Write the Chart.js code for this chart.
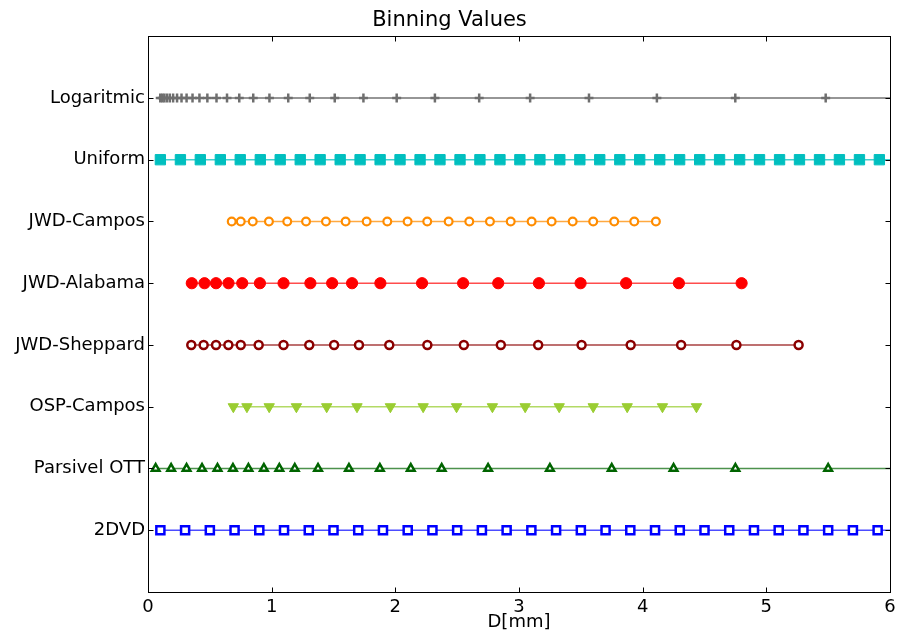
<!DOCTYPE html>
<html>
<head>
<meta charset="utf-8">
<script src="https://cdn.jsdelivr.net/npm/chart.js@4.4.1/dist/chart.umd.min.js"></script>
<style>
  html, body { margin: 0; padding: 0; background: #fff; }
  #wrap { width: 899px; height: 635px; }
</style>
</head>
<body>
<div id="wrap"><canvas id="c" width="899" height="635"></canvas></div>
<script>
// ---- data ----
const categories = ["2DVD", "Parsivel OTT", "OSP-Campos", "JWD-Sheppard", "JWD-Alabama", "JWD-Campos", "Uniform", "Logaritmic"];
const xTicks = [0, 1, 2, 3, 4, 5, 6];

const dvd2 = [0.1, 0.3, 0.5, 0.7, 0.9, 1.1, 1.3, 1.5, 1.7, 1.9, 2.1, 2.3, 2.5, 2.7, 2.9, 3.1, 3.3, 3.5, 3.7, 3.9, 4.1, 4.3, 4.5, 4.7, 4.9, 5.1, 5.3, 5.5, 5.7, 5.9, 6.1, 6.3];
const parsivel = [0.062, 0.187, 0.312, 0.437, 0.562, 0.687, 0.812, 0.937, 1.062, 1.187, 1.375, 1.625, 1.875, 2.125, 2.375, 2.75, 3.25, 3.75, 4.25, 4.75, 5.5, 6.5, 7.5];
const ospCampos = [0.69, 0.80, 0.98, 1.20, 1.445, 1.69, 1.96, 2.225, 2.495, 2.785, 3.05, 3.325, 3.60, 3.875, 4.16, 4.435];
const jwdSheppard = [0.35, 0.45, 0.55, 0.65, 0.75, 0.895, 1.096, 1.304, 1.505, 1.706, 1.951, 2.259, 2.554, 2.853, 3.155, 3.506, 3.903, 4.311, 4.758, 5.261];
const jwdAlabama = [0.354, 0.457, 0.550, 0.651, 0.762, 0.905, 1.096, 1.313, 1.489, 1.650, 1.879, 2.216, 2.548, 2.832, 3.161, 3.498, 3.866, 4.293, 4.800];
const jwdCampos = [0.677, 0.750, 0.847, 0.978, 1.126, 1.278, 1.439, 1.598, 1.768, 1.935, 2.099, 2.258, 2.431, 2.598, 2.765, 2.933, 3.102, 3.264, 3.434, 3.600, 3.770, 3.932, 4.107];
const uniform = [0.100, 0.262, 0.423, 0.585, 0.746, 0.908, 1.069, 1.231, 1.392, 1.554, 1.715, 1.877, 2.038, 2.200, 2.361, 2.523, 2.684, 2.846, 3.007, 3.169, 3.330, 3.492, 3.653, 3.815, 3.976, 4.138, 4.299, 4.461, 4.622, 4.784, 4.945, 5.107, 5.268, 5.430, 5.591, 5.753, 5.914, 6.076, 6.237];
const logaritmic = [0.099, 0.115, 0.132, 0.153, 0.176, 0.203, 0.235, 0.271, 0.312, 0.360, 0.416, 0.480, 0.554, 0.639, 0.738, 0.851, 0.982, 1.134, 1.308, 1.510, 1.742, 2.011, 2.320, 2.678, 3.090, 3.566, 4.115, 4.749, 5.480, 6.324, 7.298];

const seriesValues = [dvd2, parsivel, ospCampos, jwdSheppard, jwdAlabama, jwdCampos, uniform, logaritmic];

// ---- styles ----
const styles = [
  { color: '#0000ff', line: 'rgba(0,0,255,0.7)',     pointStyle: 'rect',     radius: 5.7, fill: '#ffffff', bw: 2.5, rot: 0 },
  { color: '#006400', line: 'rgba(0,100,0,0.7)',     pointStyle: 'triangle', radius: 4.4, fill: '#ffffff', bw: 2.5, rot: 0 },
  { color: '#9acd32', line: 'rgba(154,205,50,0.75)', pointStyle: 'triangle', radius: 6.0, fill: '#9acd32', bw: 1,   rot: 180 },
  { color: '#8b0000', line: 'rgba(139,0,0,0.75)',    pointStyle: 'circle',   radius: 4.0, fill: '#ffffff', bw: 2.5, rot: 0 },
  { color: '#ff0000', line: 'rgba(255,0,0,0.7)',     pointStyle: 'circle',   radius: 5.6, fill: '#ff0000', bw: 1,   rot: 0 },
  { color: '#ff8c00', line: 'rgba(255,140,0,0.75)',  pointStyle: 'circle',   radius: 3.9, fill: '#ffffff', bw: 2.2, rot: 0 },
  { color: '#00bfbf', line: 'rgba(0,191,191,0.75)',  pointStyle: 'rect',     radius: 7.3, fill: '#00bfbf', bw: 1,   rot: 0 },
  { color: '#6e6e6e', line: 'rgba(90,90,90,0.85)',   pointStyle: 'cross',    radius: 4.5, fill: '#6e6e6e', bw: 2.5, rot: 0 }
];

const datasets = seriesValues.map((vals, i) => {
  const s = styles[i];
  return {
    label: categories[i],
    data: vals.map(v => ({ x: v, y: i + 1 })),
    showLine: true,
    borderColor: s.line,
    borderWidth: 1.5,
    backgroundColor: s.fill,
    pointStyle: s.pointStyle,
    pointRadius: s.radius,
    pointHoverRadius: s.radius,
    pointRotation: s.rot,
    pointBackgroundColor: s.fill,
    pointBorderColor: s.color,
    pointBorderWidth: s.bw,
    fill: false,
    tension: 0
  };
});

// frame + inward tick marks on all four sides (positions come from the scales)
const frame = {
  id: 'frame',
  afterDraw(chart) {
    const { ctx, chartArea: a, scales } = chart;
    const L = Math.round(a.left) + 0.5, R = Math.round(a.right) + 0.5;
    const T = Math.round(a.top) + 0.5, B = Math.round(a.bottom) + 0.5;
    const len = 5;
    ctx.save();
    ctx.strokeStyle = '#000';
    ctx.lineWidth = 1;
    ctx.beginPath();
    scales.y.ticks.forEach(t => {
      const py = Math.round(scales.y.getPixelForValue(t.value)) + 0.5;
      ctx.moveTo(L, py); ctx.lineTo(L + len, py);
      ctx.moveTo(R, py); ctx.lineTo(R - len, py);
    });
    scales.x.ticks.forEach(t => {
      const px = Math.round(scales.x.getPixelForValue(t.value)) + 0.5;
      ctx.moveTo(px, B); ctx.lineTo(px, B - len);
      ctx.moveTo(px, T); ctx.lineTo(px, T + len);
    });
    ctx.stroke();
    ctx.strokeRect(L, T, R - L, B - T);
    ctx.restore();
  }
};

const FONT = "'DejaVu Sans', sans-serif";

new Chart(document.getElementById('c'), {
  type: 'line',
  data: { datasets },
  options: {
    responsive: false,
    animation: false,
    events: [],
    layout: { padding: { left: 0, right: 0, top: 0, bottom: 0 } },
    plugins: {
      legend: { display: false },
      tooltip: { enabled: false },
      title: {
        display: true,
        text: 'Binning Values',
        color: '#000',
        font: { family: FONT, size: 21, weight: 'normal', lineHeight: 1.2 },
        padding: { top: 8, bottom: 3 }
      }
    },
    scales: {
      x: {
        type: 'linear',
        position: 'bottom',
        min: 0, max: 6,
        afterBuildTicks: (s) => { s.ticks = xTicks.map(v => ({ value: v })); },
        afterFit: (s) => { s.height = 43; },
        ticks: { color: '#000', font: { family: FONT, size: 18, lineHeight: 1 }, padding: 2, maxRotation: 0, callback: v => String(v) },
        grid: { display: true, drawOnChartArea: false, drawTicks: true, tickLength: 4, tickColor: 'rgba(0,0,0,0)' },
        border: { display: true, color: '#000', width: 1 },
        title: { display: true, text: 'D[mm]', color: '#000', font: { family: FONT, size: 18, lineHeight: 1.2 }, padding: { top: 0, bottom: 2 } }
      },
      y: {
        type: 'linear',
        position: 'left',
        min: 0, max: 9,
        afterBuildTicks: (s) => { s.ticks = categories.map((c, i) => ({ value: i + 1 })); },
        afterFit: (s) => { s.width = 148; },
        ticks: { color: '#000', font: { family: FONT, size: 18 }, padding: 3, callback: v => categories[v - 1] || '' },
        grid: { display: true, drawOnChartArea: false, drawTicks: false },
        border: { display: true, color: '#000', width: 1 }
      },
      yRight: {
        type: 'linear',
        position: 'right',
        min: 0, max: 9,
        afterFit: (s) => { s.width = 9; },
        ticks: { display: false },
        grid: { display: false, drawTicks: false },
        border: { display: false }
      }
    }
  },
  plugins: [frame]
});
</script>
</body>
</html>
